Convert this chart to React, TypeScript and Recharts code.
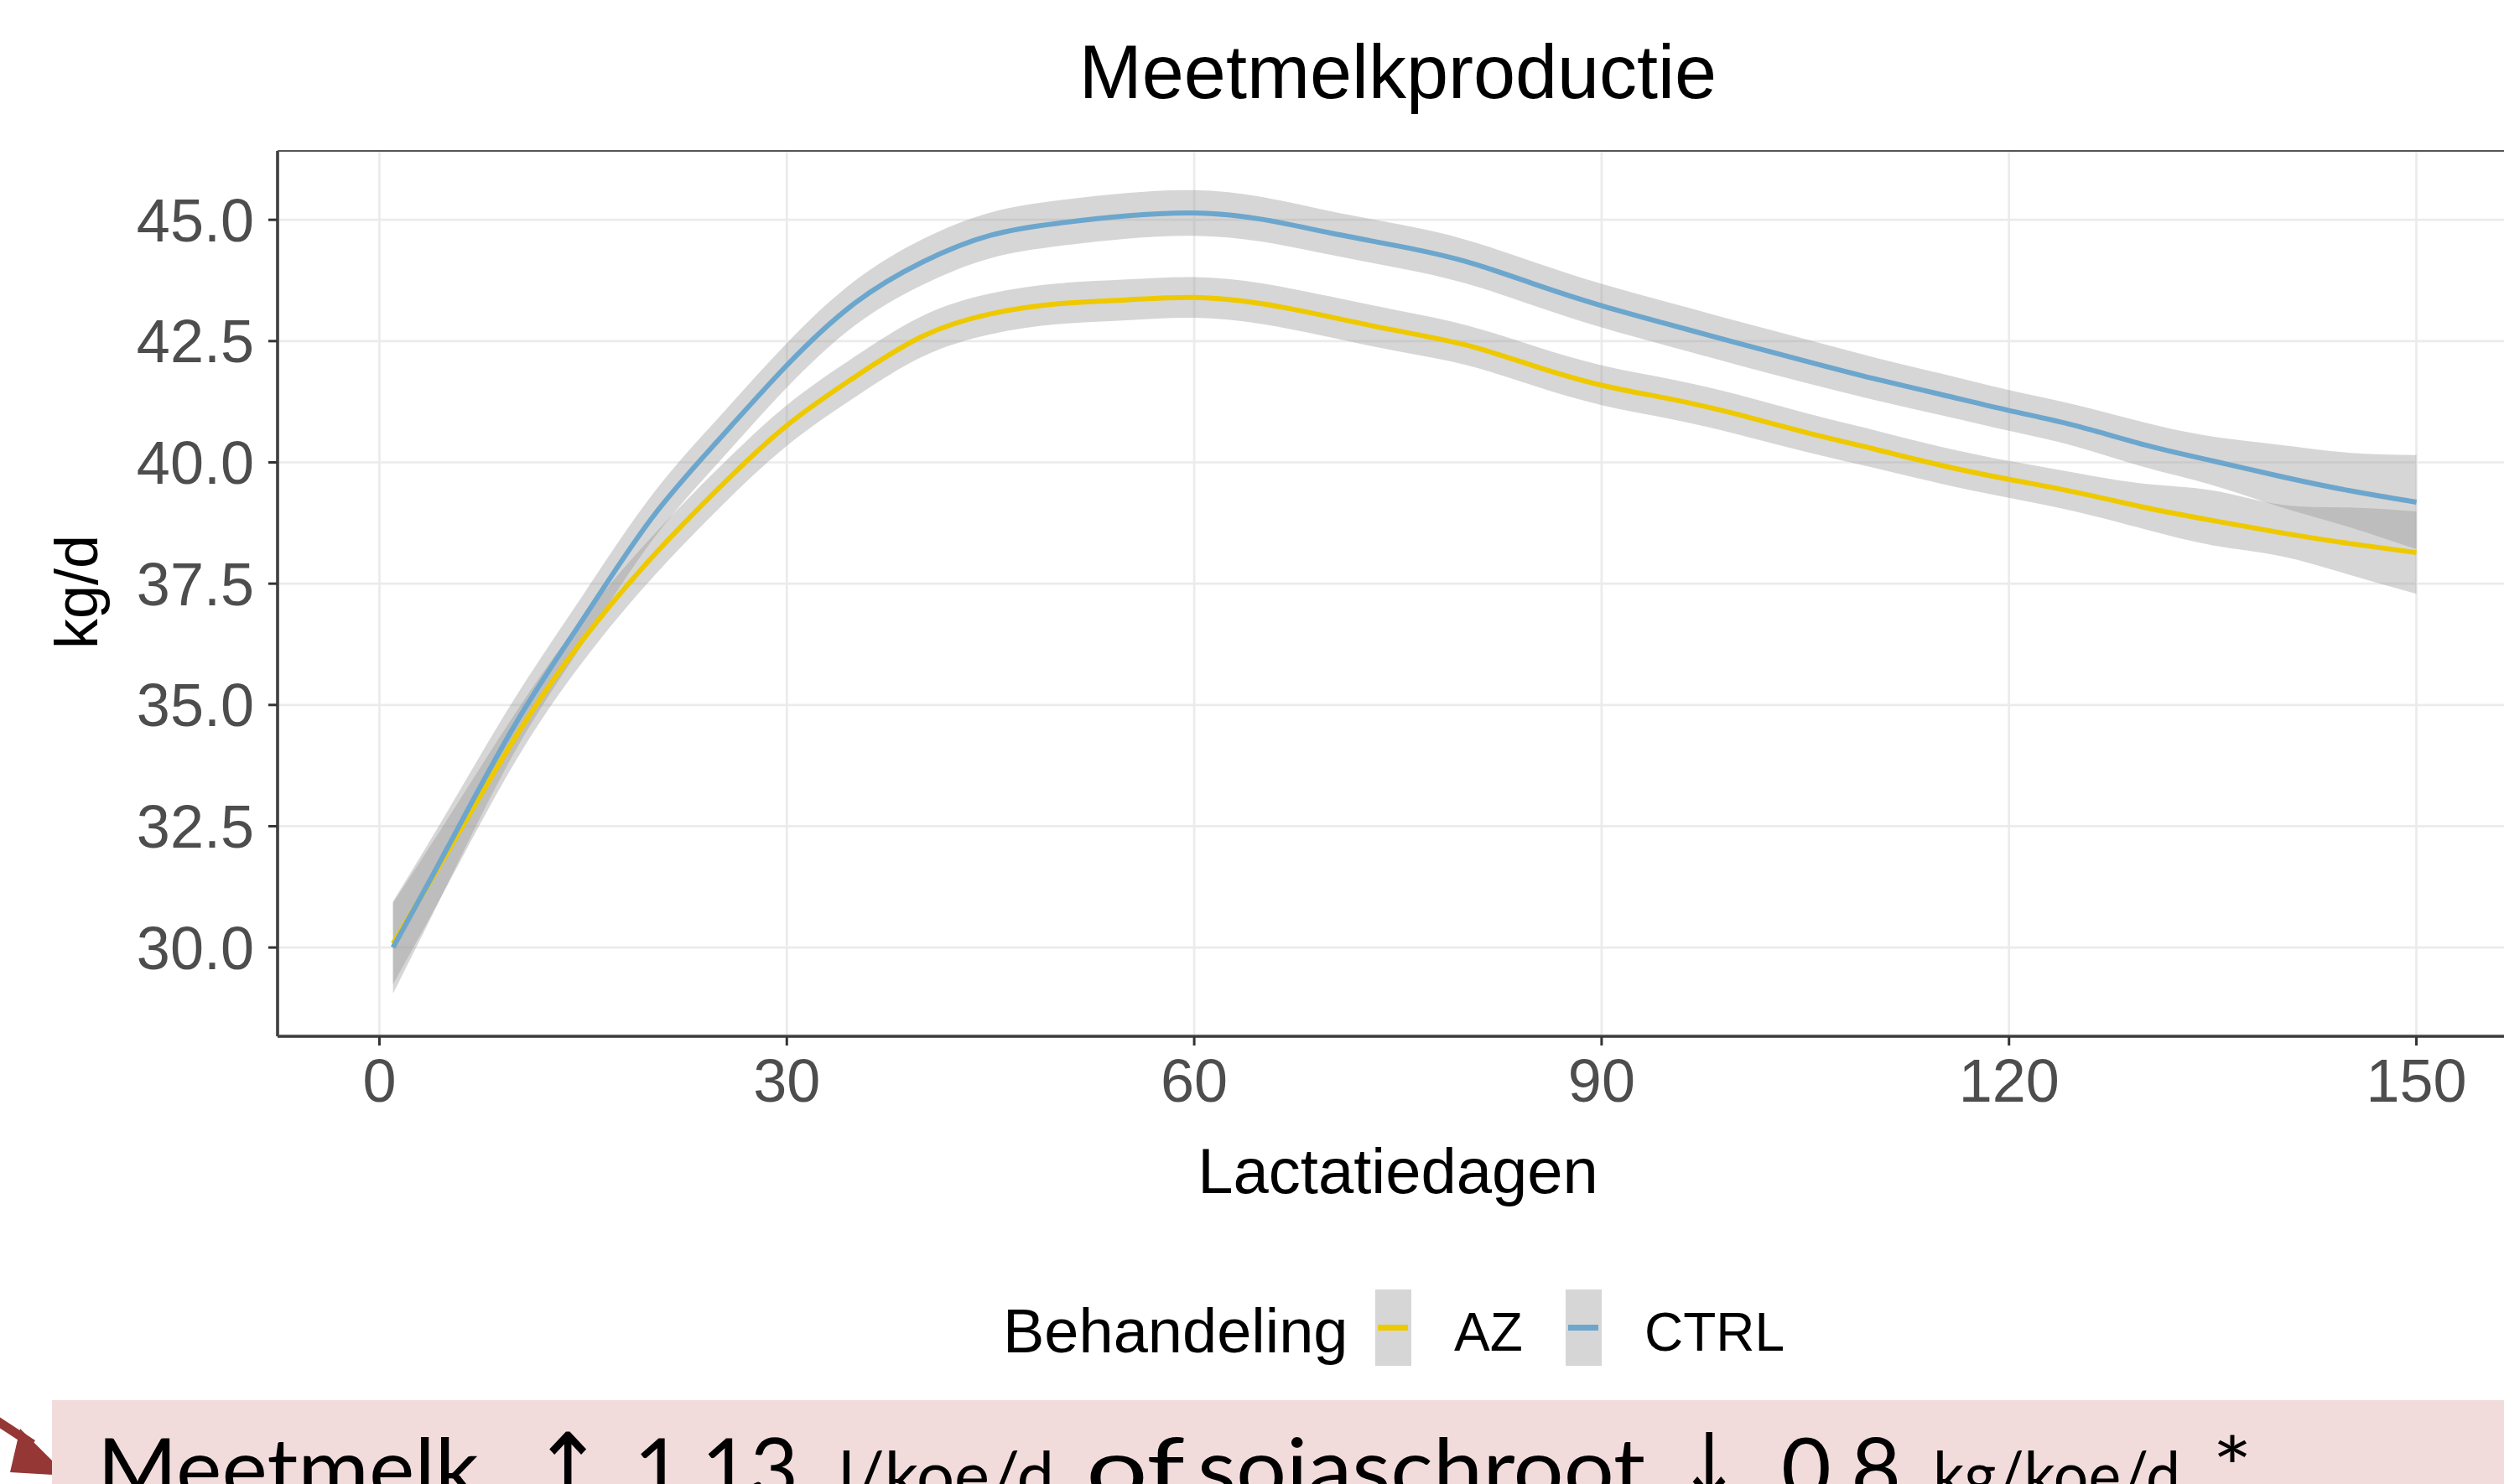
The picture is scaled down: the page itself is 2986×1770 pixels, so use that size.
import React from "react"
import { Area, CartesianGrid, ComposedChart, Line, XAxis, YAxis } from "recharts"

// lactation days sampled off the smooth curves
const days = [1, 5, 10, 15, 20, 25, 30, 35, 40, 45, 50, 55, 60, 65, 70, 75, 80, 85, 90, 95, 100, 105, 110, 115, 120, 125, 130, 135, 140, 145, 150]

// CTRL (skyblue3)
const ctrlMean = [30.0, 32.05, 34.6, 36.77, 38.83, 40.47, 42.0, 43.28, 44.13, 44.68, 44.93, 45.08, 45.14, 45.01, 44.73, 44.46, 44.14, 43.68, 43.23, 42.84, 42.46, 42.09, 41.73, 41.4, 41.07, 40.75, 40.36, 40.03, 39.71, 39.42, 39.18]
const ctrlLo = [29.05, 31.3, 34.05, 36.27, 38.36, 40.01, 41.54, 42.82, 43.66, 44.21, 44.46, 44.61, 44.67, 44.55, 44.28, 44.01, 43.69, 43.23, 42.78, 42.39, 42.01, 41.64, 41.29, 40.97, 40.65, 40.32, 39.9, 39.53, 39.08, 38.67, 38.21]
const ctrlHi = [30.95, 32.8, 35.15, 37.27, 39.3, 40.93, 42.46, 43.74, 44.6, 45.15, 45.4, 45.55, 45.61, 45.47, 45.18, 44.91, 44.59, 44.13, 43.68, 43.29, 42.91, 42.54, 42.17, 41.83, 41.49, 41.18, 40.82, 40.53, 40.36, 40.2, 40.15]

// AZ (gold2)
const azMean = [30.08, 31.96, 34.33, 36.35, 38.02, 39.47, 40.76, 41.76, 42.6, 43.06, 43.27, 43.35, 43.4, 43.27, 43.0, 42.71, 42.42, 41.99, 41.59, 41.31, 40.99, 40.62, 40.28, 39.94, 39.65, 39.38, 39.07, 38.8, 38.55, 38.33, 38.14]
const azLo = [29.24, 31.28, 33.83, 35.9, 37.59, 39.05, 40.34, 41.34, 42.18, 42.64, 42.85, 42.93, 42.98, 42.85, 42.58, 42.29, 42.01, 41.58, 41.18, 40.9, 40.58, 40.22, 39.89, 39.56, 39.27, 38.98, 38.62, 38.29, 38.07, 37.69, 37.29]
const azHi = [30.92, 32.64, 34.83, 36.8, 38.45, 39.89, 41.18, 42.18, 43.02, 43.48, 43.69, 43.77, 43.82, 43.69, 43.42, 43.13, 42.83, 42.4, 42.0, 41.72, 41.4, 41.02, 40.67, 40.32, 40.03, 39.78, 39.56, 39.42, 39.13, 39.07, 38.99]

const xTicks = [0, 30, 60, 90, 120, 150]
const yTicks = [30, 32.5, 35, 37.5, 40, 42.5, 45]

const groups = [
  { key: "az", label: "AZ", color: "#EEC900" },
  { key: "ctrl", label: "CTRL", color: "#6CA6CD" },
]

const data = days.map((d, i) => ({
  day: d,
  az: azMean[i],
  azBand: [azLo[i], azHi[i]],
  ctrl: ctrlMean[i],
  ctrlBand: [ctrlLo[i], ctrlHi[i]],
}))

const chartFont = "'Liberation Sans', Arial, sans-serif"
const slideFont = "Lato, 'Open Sans', sans-serif"

// slide caption under the chart, split in pieces so the small unit text can be sized apart
const caption = [
  { text: "Meetmelk", x: 116, len: 455, size: 100 },
  { text: "↑", x: 634, len: 86, size: 110, arrow: true },
  { text: "1,13", x: 756, len: 196, size: 100 },
  { text: "l/koe/d", x: 1000, len: 257, size: 80 },
  { text: "of", x: 1295, len: 118, size: 100 },
  { text: "sojaschroot", x: 1428, len: 534, size: 100 },
  { text: "↓", x: 2000, len: 76, size: 110, arrow: true },
  { text: "0,8", x: 2124, len: 143, size: 100 },
  { text: "kg/koe/d", x: 2305, len: 295, size: 80 },
  { text: "*", x: 2638, len: 48, size: 100 },
]

export default function App() {
  const tickStyle = { fill: "#4d4d4d", fontSize: 72, fontFamily: chartFont }
  return (
    <div style={{ position: "absolute", left: 0, top: 0, width: 2986, height: 1770, overflow: "hidden", background: "#fff" }}>
      <ComposedChart width={3040} height={1340} data={data} margin={{ top: 180, right: 37, bottom: 0, left: 0 }}>
        <CartesianGrid stroke="#ebebeb" strokeWidth={2.7} />
        <XAxis
          dataKey="day"
          type="number"
          domain={[-7.5, 157.5]}
          ticks={xTicks}
          allowDataOverflow
          height={104}
          tickSize={11}
          tickMargin={16}
          axisLine={{ stroke: "#333", strokeWidth: 3.5 }}
          tickLine={{ stroke: "#333", strokeWidth: 3 }}
          tick={tickStyle}
        />
        <YAxis
          type="number"
          domain={[28.17, 46.42]}
          ticks={yTicks}
          allowDataOverflow
          width={331}
          tickSize={11}
          tickMargin={17}
          tickFormatter={(v) => v.toFixed(1)}
          axisLine={{ stroke: "#333", strokeWidth: 3.5 }}
          tickLine={{ stroke: "#333", strokeWidth: 3 }}
          tick={tickStyle}
        />
        <Area type="natural" dataKey="azBand" fill="#999999" fillOpacity={0.4} stroke="none" isAnimationActive={false} />
        <Line type="natural" dataKey="az" stroke={groups[0].color} strokeWidth={6} dot={false} isAnimationActive={false} />
        <Area type="natural" dataKey="ctrlBand" fill="#999999" fillOpacity={0.4} stroke="none" isAnimationActive={false} />
        <Line type="natural" dataKey="ctrl" stroke={groups[1].color} strokeWidth={6} dot={false} isAnimationActive={false} />
      </ComposedChart>

      {/* panel border */}
      <div style={{ position: "absolute", left: 331, top: 179, width: 2672, height: 1057, border: "2.5px solid #555", boxSizing: "border-box", pointerEvents: "none" }} />

      <svg width={2986} height={1770} style={{ position: "absolute", left: 0, top: 0, pointerEvents: "none" }}>
        <text x={1667} y={117} textAnchor="middle" fontSize={90} fontFamily={chartFont} fill="#000">
          Meetmelkproductie
        </text>
        <text x={1667} y={1423} textAnchor="middle" fontSize={76} fontFamily={chartFont} fill="#000">
          Lactatiedagen
        </text>
        <text transform="translate(116,706) rotate(-90)" textAnchor="middle" fontSize={72} fontFamily={chartFont} fill="#000">
          kg/d
        </text>

        {/* legend */}
        <text x={1196} y={1613} fontSize={74} fontFamily={chartFont} fill="#000">
          Behandeling
        </text>
        {groups.map((g, i) => {
          const kx = 1640 + i * 227
          return (
            <g key={g.key}>
              <rect x={kx} y={1538} width={43} height={91} fill="#d6d6d6" />
              <line x1={kx + 3} x2={kx + 39} y1={1583.5} y2={1583.5} stroke={g.color} strokeWidth={7} />
              <text x={kx + 94} y={1611} fontSize={64} fontFamily={chartFont} fill="#000">
                {g.label}
              </text>
            </g>
          )
        })}

        {/* slide annotation */}
        <polygon points="-10,1697 -4,1688 42,1718 36,1727" fill="#953735" />
        <polygon points="24,1704 80,1760 12,1756" fill="#953735" />
        <rect x={62} y={1670} width={2924} height={100} fill="#f2dcdb" />
        {caption.map((c) => (
          <text
            key={c.text}
            x={c.x}
            y={1788}
            fontSize={c.size}
            fontFamily={c.arrow ? "'DejaVu Sans', sans-serif" : slideFont}
            textLength={c.len}
            lengthAdjust="spacingAndGlyphs"
            fill="#000"
          >
            {c.text}
          </text>
        ))}
      </svg>
    </div>
  )
}
